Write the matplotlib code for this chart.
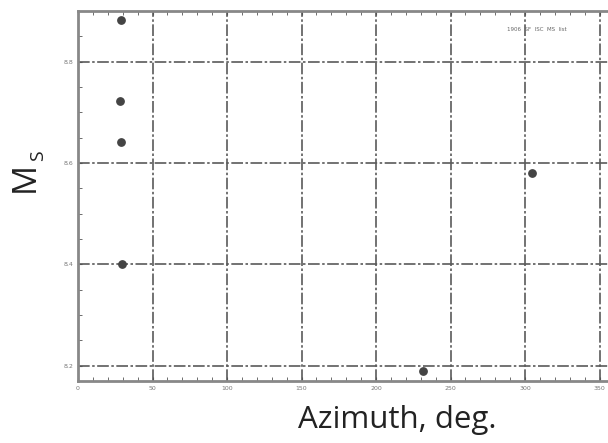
import matplotlib.pyplot as plt
import numpy as np
from matplotlib.ticker import MultipleLocator

# %%
# データ
azimuth = [28.9, 28.2, 28.9, 29.6, 304.5, 231.7]
ms_values = [8.883, 8.723, 8.641, 8.40, 8.580, 8.190]
x_ticks = [0, 50, 100, 150, 200, 250, 300, 350]
y_ticks = [8.2, 8.4, 8.6, 8.8]
note = "1906  SF  ISC  MS  list"

# %%
fig = plt.figure(figsize=(6.08, 4.43), dpi=100)
# axes run past the right edge, as in the cropped reference
ax = fig.add_axes([0.1283, 0.14, 0.8823, 0.835])

ax.scatter(azimuth, ms_values, s=28, color="#444444", zorder=3)

ax.set_xlim(0, 360)
ax.set_ylim(8.17, 8.9)
ax.set_xticks(x_ticks)
ax.set_yticks(y_ticks)
ax.xaxis.set_minor_locator(MultipleLocator(10))
ax.yaxis.set_minor_locator(MultipleLocator(0.05))
ax.tick_params(which="both", direction="in", top=True, right=True,
               labelsize=4.5, labelcolor="#777777", color="#555555")
ax.tick_params(which="major", length=3)
ax.tick_params(which="minor", length=3)

ax.grid(True, which="major", color="#5a5a5a",
        linestyle=(0, (7, 1.5, 1.5, 1.5)), linewidth=1.2)
for s in ax.spines.values():
    s.set_color("#888888")
    s.set_linewidth(2)

ax.text(288, 8.863, note, fontsize=4, color="#666666", va="center")

fig.text(0.653, 0.052, "Azimuth, deg.", fontsize=22.5, family="Open Sans",
         ha="center", va="center", color="#222222")
# M with subscript S, rotated
fig.text(0.041, 0.60, "M", fontsize=24, family="Open Sans",
         rotation=90, ha="center", va="center", color="#222222")
fig.text(0.063, 0.648, "S", fontsize=14, family="Open Sans",
         rotation=90, ha="center", va="center", color="#222222")

plt.savefig("out.png", dpi=100)
